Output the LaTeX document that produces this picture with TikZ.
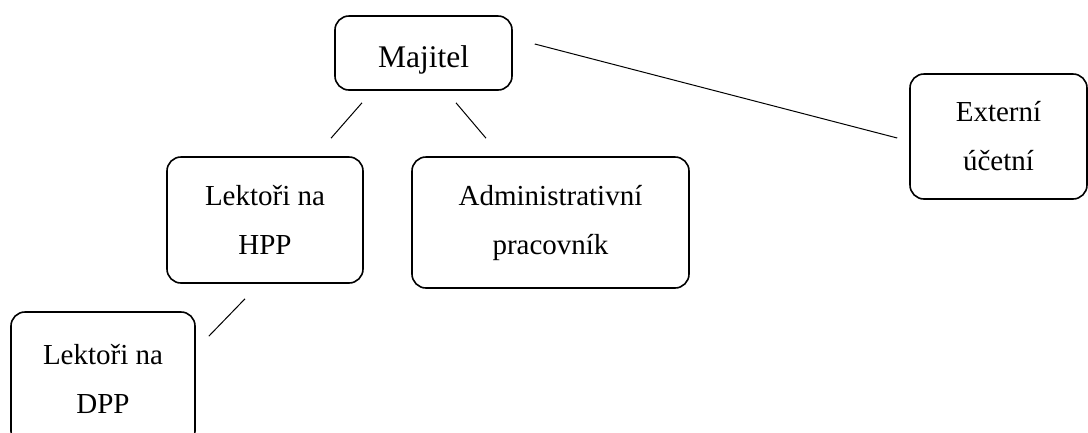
\documentclass[tikz,border=0pt]{standalone}
\usepackage{fontspec}
\setmainfont{Liberation Serif}
\tikzset{
  box/.style={draw, line width=1.6pt, rounded corners=14pt, align=center,
    font=\fontsize{29}{49}\selectfont, inner sep=0pt,
    execute at begin node={\rule{0pt}{36pt}}},
  link/.style={line width=1pt}
}
\begin{document}
\begin{tikzpicture}[x=1pt,y=-1pt]
    \useasboundingbox (0,0) rectangle (1088,432);
    \clip (0,0) rectangle (1088,432);
    \node[box, font=\fontsize{31.5}{49}\selectfont, minimum width=177pt, minimum height=74pt] (Maj) at (423.5,53) {Majitel};
    \node[box, minimum width=196pt, minimum height=126pt] (HPP) at (265,220) {Lektoři na\\HPP};
    \node[box, minimum width=277pt, minimum height=131pt] (Adm) at (550.5,222.5) {Administrativní\\pracovník};
    \node[box, minimum width=177pt, minimum height=125pt] (Ext) at (998.5,136.5) {Externí\\účetní};
    \node[box, minimum width=184pt, minimum height=133pt] (DPP) at (103,378.5) {Lektoři na\\DPP};

    \draw[link] ([xshift=-61.5pt,yshift=-12pt]Maj.south) -- ([xshift=66pt,yshift=18pt]HPP.north);
    \draw[link] ([xshift=32.5pt,yshift=-12pt]Maj.south) -- ([xshift=-64.5pt,yshift=18pt]Adm.north);
    \draw[link] ([xshift=22pt,yshift=9pt]Maj.east) -- ([xshift=-12pt,yshift=-1.5pt]Ext.west);
    \draw[link] ([xshift=-20pt,yshift=-15pt]HPP.south) -- ([xshift=13pt,yshift=-25pt]DPP.north east);
\end{tikzpicture}
\end{document}
